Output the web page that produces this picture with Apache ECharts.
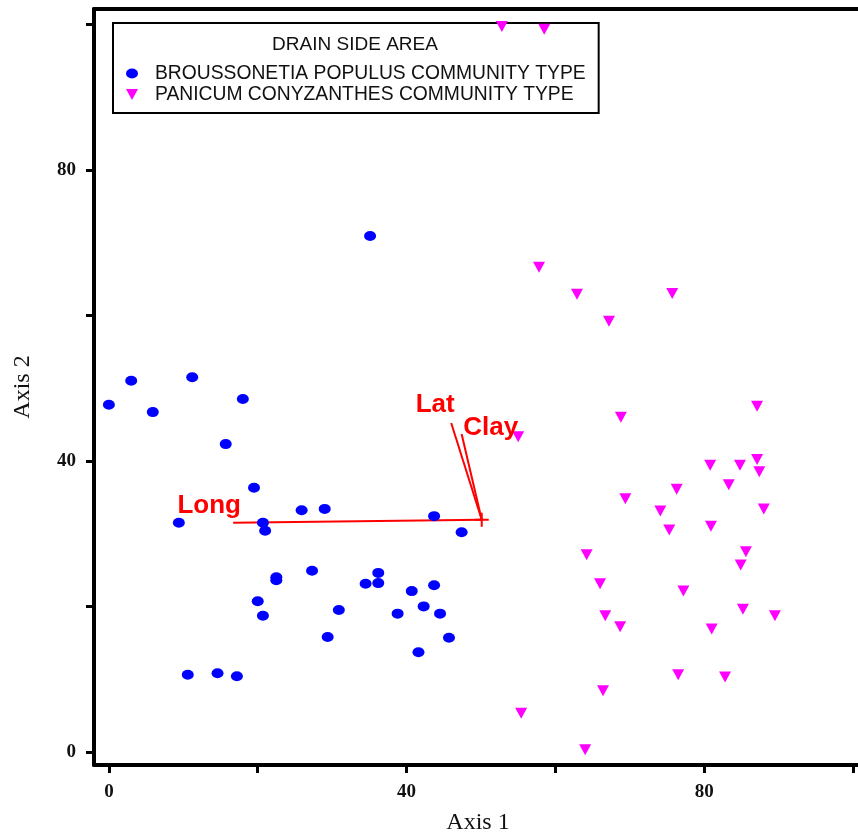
<!DOCTYPE html>
<html>
<head>
<meta charset="utf-8">
<script src="https://cdn.jsdelivr.net/npm/echarts@6/dist/echarts.min.js"></script>
<style>
  html, body { margin: 0; padding: 0; background: #fff; overflow: hidden; }
  #chart { width: 858px; height: 835px; }
</style>
</head>
<body>
<div id="chart"></div>
<script>
// Broussonetia papyrifera / Populus community (blue circles) [axis1, axis2]
var broussonetia = [
  [0, 47.7], [3.0, 51.0], [5.9, 46.7], [11.2, 51.5], [18.0, 48.5],
  [15.7, 42.3], [19.5, 36.3], [9.4, 31.5], [20.7, 31.5], [21.0, 30.4],
  [25.9, 33.2], [29.0, 33.4], [35.1, 70.9], [43.7, 32.4], [47.4, 30.2],
  [10.6, 10.6], [14.6, 10.8], [17.2, 10.4], [20.0, 20.7], [20.7, 18.7],
  [22.5, 24.0], [22.5, 23.6], [27.3, 24.9], [29.4, 15.8], [30.9, 19.5],
  [34.5, 23.1], [36.2, 24.6], [36.2, 23.2], [38.8, 19.0], [40.7, 22.1],
  [41.6, 13.7], [42.3, 20.0], [43.7, 22.9], [44.5, 19.0], [45.7, 15.7]
];

// Panicum / Conyzanthes community (magenta triangles)
var panicum = [
  [52.8, 99.7], [58.5, 99.3], [55.0, 43.3], [57.8, 66.6], [62.9, 62.9],
  [67.2, 59.2], [75.7, 63.0], [68.8, 46.0], [87.1, 47.5], [80.8, 39.4],
  [84.8, 39.4], [87.1, 40.2], [87.4, 38.5], [83.3, 36.7], [76.3, 36.1],
  [69.4, 34.8], [74.1, 33.1], [88.0, 33.4], [75.3, 30.5], [80.9, 31.0],
  [64.2, 27.1], [85.6, 27.5], [84.9, 25.7], [66.0, 23.1], [77.2, 22.1],
  [85.2, 19.6], [89.5, 18.7], [66.7, 18.7], [68.7, 17.2], [81.0, 16.9],
  [76.5, 10.6], [82.8, 10.3], [66.4, 8.4], [55.4, 5.3], [64.0, 0.3]
];

// biplot vectors
var vecOrigin = [50.1, 31.9];
var vecNames = ["Long", "Lat", "Clay"];
var vecEnds = [[16.7, 31.5], [46.0, 45.2], [47.4, 43.7]];
var labelOffsets = [[-24, -17], [-16, -18], [29, -6]];

var tickValues = [0, 20, 40, 60, 80, 100];
var labelValues = [0, 40, 80];

var chart = echarts.init(document.getElementById("chart"));

var serifLabel = {
  color: "#111",
  fontFamily: "Liberation Serif",
  fontWeight: "bold",
  fontSize: 19
};

var vectorSeries = vecEnds.map(function (end, i) {
  return {
    name: vecNames[i],
    type: "line",
    data: [vecOrigin, end],
    symbol: "none",
    lineStyle: { color: "#ff0000", width: 2, opacity: 1 },
    silent: true,
    z: 1
  };
});

chart.setOption({
  backgroundColor: "#fff",
  animation: false,
  title: {
    text: "DRAIN SIDE AREA",
    left: 355,
    top: 35,
    textAlign: "center",
    padding: 0,
    textStyle: {
      fontFamily: "Liberation Sans",
      fontWeight: "normal",
      fontSize: 19,
      color: "#111"
    }
  },
  legend: {
    data: ["BROUSSONETIA POPULUS COMMUNITY TYPE", "PANICUM CONYZANTHES COMMUNITY TYPE"],
    orient: "vertical",
    left: 113,
    top: 23,
    padding: [40, 13, 8, 13],
    itemGap: 0,
    itemWidth: 12,
    itemHeight: 11,
    borderColor: "#000",
    borderWidth: 2,
    backgroundColor: "#fff",
    textStyle: {
      fontFamily: "Liberation Sans",
      fontSize: 19.3,
      lineHeight: 21,
      color: "#111",
      padding: [0, 0, 0, 12]
    }
  },
  grid: { left: 94, right: -4, top: 9, bottom: 70, outerBoundsMode: "none", containLabel: false },
  xAxis: [{
    type: "value",
    min: -2,
    max: 101.2,
    name: "Axis 1",
    nameLocation: "middle",
    nameGap: 46,
    nameTextStyle: { fontFamily: "Liberation Serif", fontSize: 24, color: "#111" },
    splitLine: { show: false },
    axisLine: { show: true, onZero: false, lineStyle: { color: "#000", width: 4 } },
    axisTick: { show: true, customValues: tickValues, length: 8, lineStyle: { color: "#000", width: 3 } },
    axisLabel: Object.assign({ customValues: labelValues, margin: 18 }, serifLabel)
  }, {
    type: "value",
    position: "top",
    min: -2,
    max: 101.2,
    splitLine: { show: false },
    axisLine: { show: true, onZero: false, lineStyle: { color: "#000", width: 4 } },
    axisTick: { show: false },
    axisLabel: { show: false }
  }],
  yAxis: {
    type: "value",
    min: -1.8,
    max: 102.1,
    name: "Axis 2",
    nameLocation: "middle",
    nameGap: 59,
    nameRotate: 90,
    nameTextStyle: { fontFamily: "Liberation Serif", fontSize: 24, color: "#111" },
    splitLine: { show: false },
    axisLine: { show: true, onZero: false, lineStyle: { color: "#000", width: 4 } },
    axisTick: { show: true, customValues: tickValues, length: 8, lineStyle: { color: "#000", width: 3 } },
    axisLabel: Object.assign({ customValues: labelValues, margin: 18, padding: [4, 0, 0, 0] }, serifLabel)
  },
  series: vectorSeries.concat([
    {
      name: "origin",
      type: "scatter",
      data: [vecOrigin],
      symbol: "path://M0,6h14v2h-14zM6,0h2v14h-2z",
      symbolSize: 14,
      itemStyle: { color: "#ff0000", opacity: 1 },
      silent: true,
      z: 1
    },
    {
      name: "BROUSSONETIA POPULUS COMMUNITY TYPE",
      type: "scatter",
      data: broussonetia,
      symbol: "path://M0,5a6,5 0 1,0 12,0a6,5 0 1,0 -12,0Z",
      symbolSize: [12, 10],
      itemStyle: { color: "#0000ff", opacity: 1 },
      z: 5
    },
    {
      name: "PANICUM CONYZANTHES COMMUNITY TYPE",
      type: "scatter",
      data: panicum,
      symbol: "path://M0,0L12,0L6,11Z",
      symbolSize: [12, 11],
      itemStyle: { color: "#ff00ff", opacity: 1 },
      z: 5
    },
    {
      name: "vector labels",
      type: "scatter",
      data: vecEnds.map(function (end, i) {
        return {
          value: end,
          name: vecNames[i],
          label: { offset: labelOffsets[i] }
        };
      }),
      symbolSize: 0,
      silent: true,
      z: 6,
      itemStyle: { opacity: 1 },
      label: {
        show: true,
        position: "inside",
        formatter: "{b}",
        color: "#ff0000",
        fontFamily: "Liberation Sans",
        fontWeight: "bold",
        fontSize: 26
      }
    }
  ])
});
</script>
</body>
</html>
